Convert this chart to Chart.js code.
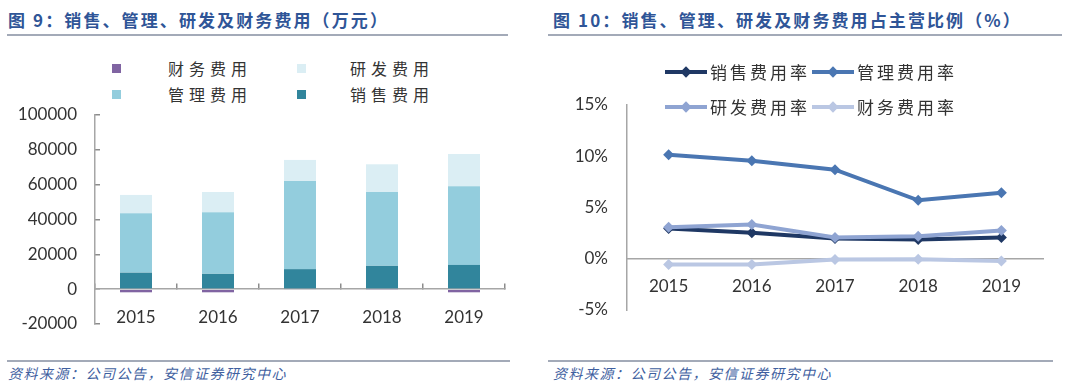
<!DOCTYPE html>
<html>
<head>
<meta charset="utf-8">
<script src="https://cdn.jsdelivr.net/npm/chart.js@4"></script>
<style>
  body { margin: 0; width: 1080px; height: 389px; background: #fff; position: relative; overflow: hidden; font-family: "Noto Sans CJK SC", sans-serif; }
  .abs { position: absolute; white-space: nowrap; }
  .title { top: 8px; font-size: 17px; line-height: 24px; font-weight: bold; color: #2f5597; letter-spacing: 2.1px; }
  .rule { height: 2px; background: #a3aab8; }
  .src { top: 364px; font-size: 14px; line-height: 18px; font-style: italic; color: #3f5f9f; letter-spacing: 1.5px; }
  .lg { font-size: 16px; line-height: 20px; color: #333; letter-spacing: 5px; }
  .sq { width: 9px; height: 9px; }
  .lg2 { font-size: 17px; line-height: 22px; color: #333; letter-spacing: 3px; }
  .ln { height: 4px; width: 42px; }
  .dm { width: 8px; height: 8px; transform: rotate(45deg); }
  canvas { position: absolute; }
</style>
</head>
<body>
<div class="abs title" style="left:8px">图 9：销售、管理、研发及财务费用（万元）</div>
<div class="abs title" style="left:553px">图 10：销售、管理、研发及财务费用占主营比例（%）</div>
<div class="abs rule" style="left:7px;top:34px;width:501px"></div>
<div class="abs rule" style="left:548px;top:34px;width:514px"></div>

<!-- left legend -->
<div class="abs sq" style="left:112px;top:64px;background:#8064a2"></div>
<div class="abs lg" style="left:168px;top:58px">财务费用</div>
<div class="abs sq" style="left:297px;top:64px;background:#dbeef4"></div>
<div class="abs lg" style="left:350px;top:58px">研发费用</div>
<div class="abs sq" style="left:112px;top:90px;background:#93cddd"></div>
<div class="abs lg" style="left:168px;top:84px">管理费用</div>
<div class="abs sq" style="left:297px;top:90px;background:#31859c"></div>
<div class="abs lg" style="left:350px;top:84px">销售费用</div>

<canvas id="barChart" width="540" height="320" style="left:0;top:40px"></canvas>
<canvas id="lineChart" width="540" height="320" style="left:540px;top:40px"></canvas>

<!-- right legend -->
<div id="rlegend"></div>

<div class="abs rule" style="left:7px;top:360px;width:503px"></div>
<div class="abs rule" style="left:548px;top:360px;width:505px"></div>
<div class="abs src" style="left:8px">资料来源：公司公告，安信证券研究中心</div>
<div class="abs src" style="left:553px">资料来源：公司公告，安信证券研究中心</div>

<script>
const years = ['2015', '2016', '2017', '2018', '2019'];

// 费用（万元）
const salesExp = [9500, 8800, 11500, 13400, 13900];
const adminExp = [34100, 35400, 50600, 42400, 45200];
const rdExp = [10500, 11600, 12100, 15900, 18500];
const finExp = [-1800, -1800, -400, -300, -1800];

// 费用率（%）
const salesRate = [2.95, 2.53, 1.97, 1.88, 2.07];
const adminRate = [10.15, 9.56, 8.69, 5.70, 6.45];
const rdRate = [3.07, 3.34, 2.07, 2.20, 2.75];
const finRate = [-0.55, -0.55, -0.07, -0.05, -0.23];

const expRange = [-20000, 100000, 20000];
const rateRange = [-5, 15, 5];

const axisGray = '#a6a6a6';
const tickFont = { size: 17, family: 'Lato' };

// ---------------- BAR CHART ----------------
new Chart(document.getElementById('barChart'), {
    type: 'bar',
    data: {
        labels: years,
        datasets: [
            { label: '销售费用', data: salesExp, backgroundColor: '#31859c' },
            { label: '管理费用', data: adminExp, backgroundColor: '#93cddd' },
            { label: '研发费用', data: rdExp, backgroundColor: '#dbeef4' },
            { label: '财务费用', data: finExp, backgroundColor: '#8064a2' }
        ]
    },
    options: {
        responsive: false,
        animation: false,
        layout: { padding: { left: 0, right: 35, top: 75, bottom: 36 } },
        plugins: { legend: { display: false }, tooltip: { enabled: false } },
        datasets: { bar: { categoryPercentage: 1, barPercentage: 0.39 } },
        scales: {
            x: {
                stacked: true,
                position: { y: 0 },
                grid: { drawOnChartArea: false, tickLength: -6, color: '#8c8c8c', lineWidth: 1.5 },
                border: { color: axisGray, width: 1.5 },
                ticks: { padding: 24, color: '#333', font: tickFont }
            },
            y: {
                stacked: true,
                min: expRange[0], max: expRange[1],
                ticks: { stepSize: expRange[2], padding: 23, color: '#333', font: tickFont, callback: v => String(v) },
                grid: { drawOnChartArea: false, tickLength: -5, color: '#8c8c8c', lineWidth: 1.5 },
                border: { color: axisGray, width: 1.5 },
                afterFit(s) { s.width = 95; }
            }
        }
    }
});

// ---------------- LINE CHART ----------------
const lineSets = [
    { label: '销售费用率', data: salesRate, color: '#1f3864', order: 2 },
    { label: '管理费用率', data: adminRate, color: '#4a76b2', order: 1 },
    { label: '研发费用率', data: rdRate, color: '#8fa4d2', order: 0 },
    { label: '财务费用率', data: finRate, color: '#bac7e3', order: 3 }
];

new Chart(document.getElementById('lineChart'), {
    type: 'line',
    data: {
        labels: years,
        datasets: lineSets.map(d => ({
            label: d.label, data: d.data, order: d.order,
            borderColor: d.color, backgroundColor: d.color,
            borderWidth: 4, tension: 0,
            pointStyle: 'rectRot', pointRadius: 5.5, pointBorderWidth: 0
        }))
    },
    options: {
        responsive: false,
        animation: false,
        layout: { padding: { left: 0, right: 37, top: 65, bottom: 50 } },
        plugins: { legend: { display: false }, tooltip: { enabled: false } },
        scales: {
            x: {
                offset: true,
                position: { y: 0 },
                grid: { drawOnChartArea: false, drawTicks: false },
                border: { color: axisGray, width: 1.5 },
                ticks: { padding: 18, color: '#333', font: tickFont }
            },
            y: {
                min: rateRange[0], max: rateRange[1],
                ticks: { stepSize: rateRange[2], padding: 19, color: '#333', font: tickFont, callback: v => v + '%' },
                grid: { drawOnChartArea: false, drawTicks: false },
                border: { color: axisGray, width: 1.5 },
                afterFit(s) { s.width = 87; }
            }
        }
    }
});

// right legend, two rows
const legendPos = [[665, 72], [812, 72], [665, 107], [812, 107]];
const rl = document.getElementById('rlegend');
lineSets.forEach((d, i) => {
    const [x, y] = legendPos[i];
    rl.innerHTML +=
        `<div class="abs ln" style="left:${x}px;top:${y - 2}px;background:${d.color}"></div>` +
        `<div class="abs dm" style="left:${x + 17}px;top:${y - 4}px;background:${d.color}"></div>` +
        `<div class="abs lg2" style="left:${x + 45}px;top:${y - 11}px">${d.label}</div>`;
});
</script>
</body>
</html>
